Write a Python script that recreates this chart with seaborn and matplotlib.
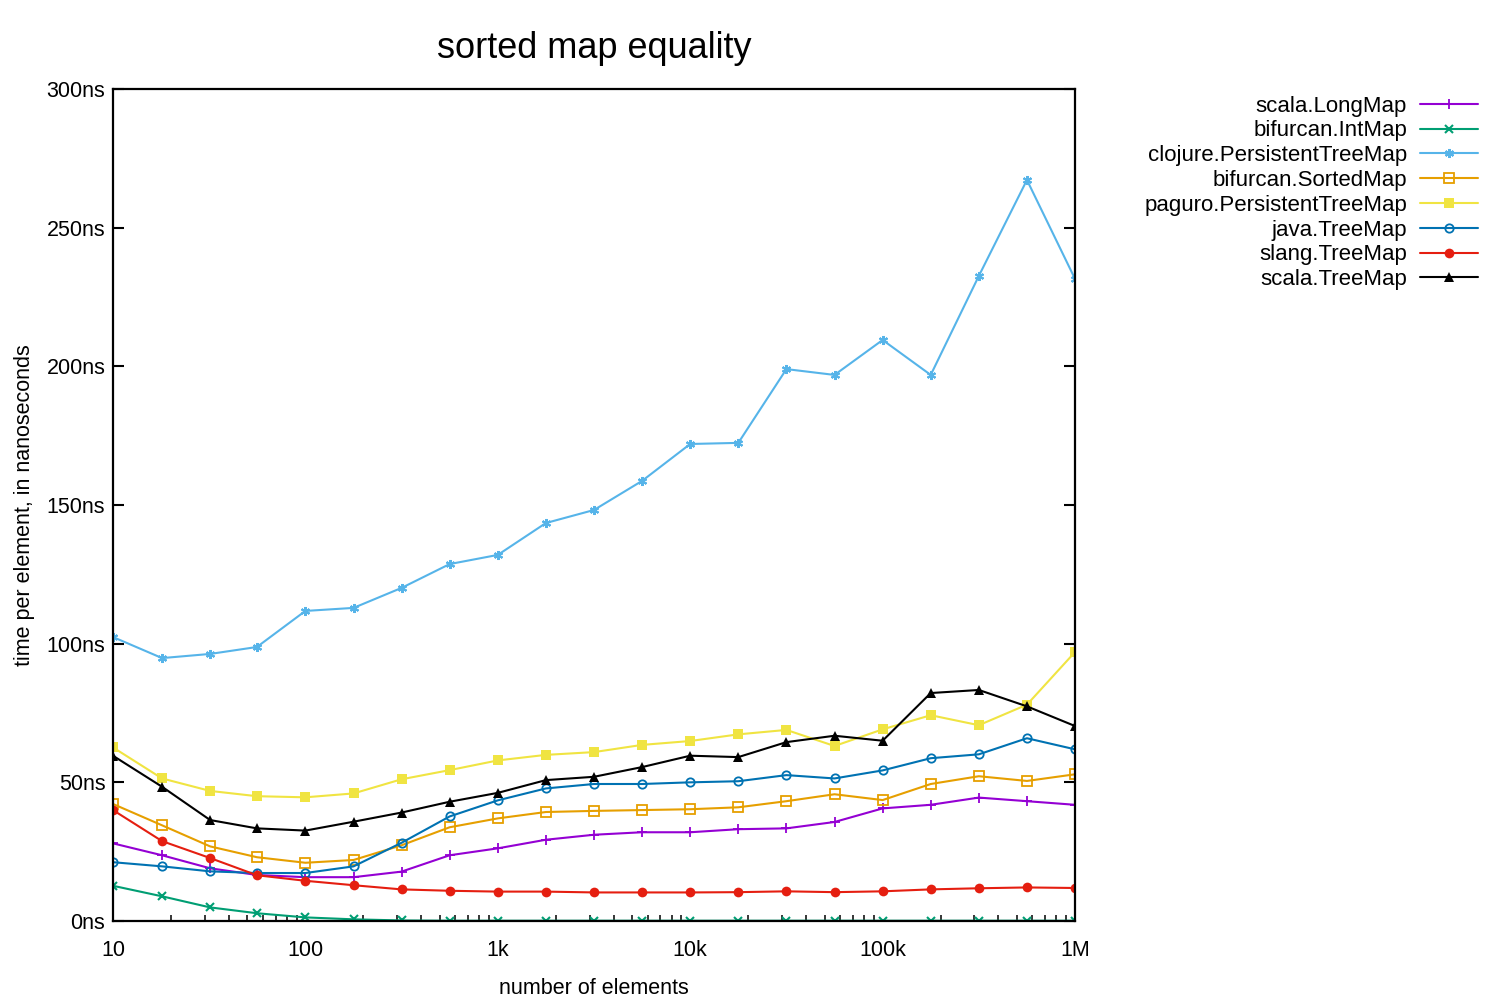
"""
Sorted map equality benchmark - time per element vs. collection size
"""

import pandas as pd
import numpy as np
import matplotlib
matplotlib.use('Agg')
import matplotlib.pyplot as plt
import matplotlib.ticker as mticker
import seaborn as sns

# ============================================================================
# 1. DATA
# ============================================================================

sizes = [10, 18, 32, 56, 100, 178, 316, 562, 1000, 1778, 3162, 5623,
         10000, 17783, 31623, 56234, 100000, 177828, 316228, 562341, 1000000]

scala_longmap = [28.0, 23.7, 19.0, 16.6, 15.8, 15.8, 17.8, 23.7, 26.2, 29.3, 31.1,
                 32.0, 32.0, 33.1, 33.4, 35.7, 40.6, 41.9, 44.5, 43.2, 41.9]
bifurcan_intmap = [12.7, 8.9, 4.9, 2.8, 1.3, 0.6, 0.2, 0.1, 0.1, 0.1, 0.1,
                   0.1, 0.1, 0.1, 0.1, 0.1, 0.1, 0.1, 0.1, 0.1, 0.1]
clojure_treemap = [102.4, 94.8, 96.3, 98.8, 111.8, 112.9, 120.1, 128.7, 132.0, 143.5, 148.2,
                   158.7, 172.0, 172.4, 199.0, 196.9, 209.5, 196.9, 232.6, 267.2, 231.5]
bifurcan_sortedmap = [42.2, 34.5, 26.9, 23.0, 21.0, 22.0, 27.3, 33.8, 37.0, 39.3, 39.7,
                      40.0, 40.3, 41.0, 43.2, 45.7, 43.6, 49.4, 52.2, 50.5, 52.9]
paguro_treemap = [62.6, 51.4, 46.9, 45.0, 44.6, 46.0, 51.1, 54.4, 57.9, 59.9, 60.9,
                  63.5, 64.9, 67.3, 68.9, 63.1, 69.1, 74.2, 70.6, 78.0, 97.0]
java_treemap = [21.2, 19.7, 17.9, 17.3, 17.3, 19.7, 28.2, 37.7, 43.5, 47.8, 49.4,
                49.4, 50.0, 50.4, 52.6, 51.4, 54.3, 58.7, 60.1, 65.9, 61.9]
slang_treemap = [40.0, 28.8, 22.7, 16.5, 14.5, 12.9, 11.4, 10.9, 10.6, 10.6, 10.3,
                 10.3, 10.3, 10.4, 10.7, 10.4, 10.7, 11.4, 11.8, 12.1, 11.9]
scala_treemap = [59.6, 48.4, 36.4, 33.4, 32.6, 35.8, 39.1, 43.0, 46.2, 50.8, 52.0,
                 55.5, 59.6, 59.1, 64.5, 66.8, 65.0, 82.2, 83.3, 77.4, 70.3]

series_names = ['scala.LongMap', 'bifurcan.IntMap', 'clojure.PersistentTreeMap',
                'bifurcan.SortedMap', 'paguro.PersistentTreeMap', 'java.TreeMap',
                'slang.TreeMap', 'scala.TreeMap']
series_values = [scala_longmap, bifurcan_intmap, clojure_treemap, bifurcan_sortedmap,
                 paguro_treemap, java_treemap, slang_treemap, scala_treemap]

x_ticks = [10, 100, 1000, 10000, 100000, 1000000]
x_tick_labels = ['10', '100', '1k', '10k', '100k', '1M']
y_ticks = [0, 50, 100, 150, 200, 250, 300]
y_tick_labels = ['0ns', '50ns', '100ns', '150ns', '200ns', '250ns', '300ns']

# gnuplot-like styles
colors = ['#9400d3', '#009e73', '#56b4e9', '#e69f00', '#f0e442', '#0072b2', '#e51e10', '#000000']
marker_styles = [
    dict(marker='+', markersize=6.5, markeredgewidth=1.3),
    dict(marker='x', markersize=5.5, markeredgewidth=1.5),
    dict(marker=(6, 2, 0), markersize=6.5, markeredgewidth=1.5),
    dict(marker='s', markersize=6.5, markerfacecolor='none', markeredgewidth=1.3),
    dict(marker='s', markersize=7, markeredgewidth=0),
    dict(marker='o', markersize=6, markerfacecolor='none', markeredgewidth=1.3),
    dict(marker='o', markersize=7, markeredgewidth=0),
    dict(marker='^', markersize=7, markeredgewidth=0),
]

frames = []
for name, vals in zip(series_names, series_values):
    frames.append(pd.DataFrame({'size': sizes, 'time': vals, 'impl': name}))
df = pd.concat(frames, ignore_index=True)

# ============================================================================
# 2. PLOT
# ============================================================================

sns.set_theme(style='white')
plt.rcParams['font.family'] = ['Liberation Sans', 'DejaVu Sans']
plt.rcParams['text.color'] = 'black'
plt.rcParams['axes.labelcolor'] = 'black'

fig = plt.figure(figsize=(15, 10), dpi=100)
ax = fig.add_axes([0.0753, 0.079, 0.6414, 0.832])

for name, color, mstyle in zip(series_names, colors, marker_styles):
    sub = df[df['impl'] == name]
    sns.lineplot(data=sub, x='size', y='time', ax=ax, color=color, label=name,
                 linewidth=1.5, markeredgecolor=color, **mstyle)

ax.set_xscale('log')
ax.set_xlim(10, 1000000)
ax.set_ylim(0, 300)
ax.set_xticks(x_ticks)
ax.set_xticklabels(x_tick_labels)
ax.xaxis.set_minor_locator(mticker.LogLocator(base=10, subs=np.arange(2, 10)))
ax.xaxis.set_minor_formatter(mticker.NullFormatter())
ax.set_yticks(y_ticks)
ax.set_yticklabels(y_tick_labels)

ax.tick_params(axis='both', which='major', direction='in', length=8, width=1.5,
               labelsize=15.5, colors='black')
ax.tick_params(axis='y', which='major', pad=5.5, right=True, left=True)
ax.tick_params(axis='x', which='major', pad=14, top=False)
ax.tick_params(axis='x', which='minor', direction='in', length=4, width=1.3,
               bottom=True, top=False)

for s in ax.spines.values():
    s.set_color('black')
    s.set_linewidth(1.6)

ax.set_xlabel('number of elements', fontsize=15.5, labelpad=12)
ax.set_ylabel('time per element, in nanoseconds', fontsize=15.5, labelpad=8)
ax.set_title('sorted map equality', fontsize=26, pad=22)

leg = ax.legend(loc='upper right', bbox_to_anchor=(1.419, 0.992), frameon=False,
                markerfirst=False, fontsize=16, handlelength=2.6, labelspacing=0.17,
                borderaxespad=0, borderpad=0, handletextpad=0.6)

# right-align legend rows like gnuplot
for col in leg._legend_handle_box.get_children():
    col.align = 'right'

plt.savefig('out.png', dpi=100)
plt.close()
